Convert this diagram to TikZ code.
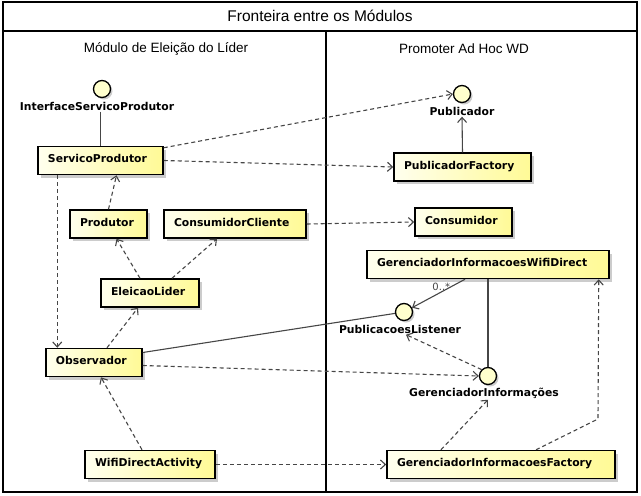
\documentclass[tikz,border=0pt]{standalone}
\usepackage{fontspec}
\setmainfont{Liberation Sans}
\newfontfamily\umlfont{DejaVu Sans}
\usetikzlibrary{arrows.meta,shadows}
\definecolor{clsleft}{RGB}{255,255,238}
\definecolor{clsright}{RGB}{255,250,150}
\definecolor{ifill}{RGB}{255,255,205}
\definecolor{wire}{RGB}{70,70,70}
\hyphenpenalty=10000
\begin{document}
\begin{tikzpicture}[x=1pt,y=-1pt,>={Straight Barb[length=5pt,width=9pt]},line width=1pt]
\tikzset{cls/.style={draw,line width=1.5pt,left color=clsleft,right color=clsright,drop shadow={shadow xshift=3pt,shadow yshift=-3pt,fill=black!40},minimum height=28pt,text depth=4pt,inner xsep=10pt,align=left,font=\umlfont\bfseries\fontsize{10.8}{12}\selectfont},
 iface/.style={circle,draw,line width=1.3pt,fill=ifill,minimum size=17pt,inner sep=0pt,drop shadow={shadow xshift=2pt,shadow yshift=-2pt,fill=black!40}},
 ilab/.style={inner sep=1pt,font=\umlfont\bfseries\fontsize{10.8}{12}\selectfont},
 mult/.style={inner sep=1pt,text=wire,font=\umlfont\fontsize{10}{12}\selectfont},
 dep/.style={->,draw=wire,dash pattern=on 4pt off 3pt,line width=1.1pt},
 assoc/.style={draw=wire,line width=1.1pt}}
\useasboundingbox (0,0) rectangle (641,496);
% frame and module headings
\draw[line width=1.4pt] (3,2) rectangle (637,492);
\draw[line width=1.2pt] (3,31) -- (637,31);
\draw[line width=1.1pt] (326,31) -- (326,492);
\node[font=\fontsize{15.5}{18}\selectfont] (ttl) at (320,16) {Fronteira entre os Módulos};
\node[font=\fontsize{13.5}{16}\selectfont] (hl) at (166,49) {Módulo de Eleição do Líder};
\node[font=\fontsize{13.5}{16}\selectfont] (hr) at (464,49) {Promoter Ad Hoc WD};
% classes
\node[cls,text width=105pt] (sp) at (100.5,160.5) {ServicoProdutor};
\node[cls,text width=117pt] (pf) at (462.5,167) {PublicadorFactory};
\node[cls,text width=57pt] (prod) at (108.5,224) {Produtor};
\node[cls,text width=122pt] (cc) at (235,224) {ConsumidorCliente};
\node[cls,text width=78pt] (el) at (150,293) {EleicaoLider};
\node[cls,text width=77pt] (cons) at (463.5,222) {Consumidor};
\node[cls,text width=222pt] (giwd) at (488,264.5) {GerenciadorInformacoesWifiDirect};
\node[cls,text width=76pt] (obs) at (94,362.5) {Observador};
\node[cls,text width=110pt] (wda) at (150,464.5) {WifiDirectActivity};
\node[cls,text width=208pt] (gif) at (501,464.5) {GerenciadorInformacoesFactory};
% interfaces
\node[iface] (isp) at (102,89) {};
\node[ilab] (ispL) at (97,106) {InterfaceServicoProdutor};
\node[iface] (pub) at (462,94) {};
\node[ilab] (pubL) at (462,111) {Publicador};
\node[iface] (plis) at (404,312) {};
\node[ilab] (plisL) at (400,329) {PublicacoesListener};
\node[iface] (ginf) at (488,376) {};
\node[ilab] (ginfL) at (484,393) {GerenciadorInformações};
% connectors
\draw[assoc] (sp.north |- ispL.south) -- (sp.north);
\draw[dep] ([yshift=-2pt]sp.north east) -- (pub.west);
\draw[dep] (sp.east) -- (pf.west);
\draw[assoc,->] (pf.north) -- (pubL.south);
\draw[dep] (prod.north) -- ([xshift=16pt]sp.south);
\draw[dep] ([xshift=-10pt]el.north) -- ([xshift=8pt]prod.south);
\draw[dep] ([xshift=22pt]el.north) -- ([xshift=-18pt]cc.south);
\draw[dep] (cc.east) -- (cons.west);
\draw[dep] ([xshift=20pt]sp.south west) -- ([xshift=20pt]sp.south west |- obs.north);
\draw[dep] ([xshift=13pt]obs.north) -- ([xshift=-12pt]el.south);
\draw[assoc] ([yshift=10pt]obs.east) -- (plis);
\draw[dep] ([yshift=-3pt]obs.east) -- (ginf.west);
\draw[assoc,->] ([xshift=-23pt]giwd.south) -- node[mult,pos=0.25,left] {0..*} (plis);
\draw[assoc] (giwd.south) -- (ginf.north);
\draw[dep] (ginf.north west) -- ([xshift=6pt]plisL.south);
\draw[dep] ([xshift=-8pt]wda.north) -- ([xshift=7pt]obs.south);
\draw[dep] (wda.east) -- (gif.west);
\draw[dep] ([xshift=-60pt]gif.north) -- ([xshift=4pt]ginfL.south);
\coordinate (bend) at (598,419);
\draw[dep] ([xshift=35pt]gif.north) -- (bend) -- ([xshift=-11pt]giwd.south east);
\end{tikzpicture}
\end{document}
